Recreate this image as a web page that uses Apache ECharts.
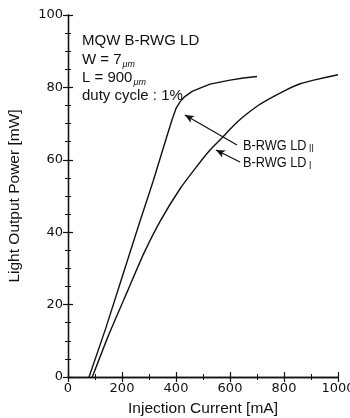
<!DOCTYPE html>
<html>
<head>
<meta charset="utf-8">
<script src="https://cdn.jsdelivr.net/npm/echarts@6/dist/echarts.min.js"></script>
<style>html,body{margin:0;padding:0;background:#fff;}#c{width:350px;height:418px;}</style>
</head>
<body>
<div id="c"></div>
<script>
// Data (Injection current [mA], Light output power [mW])
const ldIICurrent = [78, 140, 200, 260, 315, 360, 385, 400, 415, 430, 460, 489, 526, 600, 650, 700];
const ldIIPower   = [0, 13.5, 27.5, 41.5, 54, 65, 71, 74.2, 76, 77.3, 78.9, 79.8, 80.9, 82, 82.6, 83];
const ldICurrent  = [90, 150, 222, 280, 341, 415, 470, 526, 570, 610, 648, 700, 737, 800, 860, 910, 1000];
const ldIPower    = [0, 11.5, 24, 34, 43, 52, 57.5, 62.7, 66, 69.2, 71.8, 74.8, 76.5, 79, 81, 82, 83.5];
const xTicks = [0, 200, 400, 600, 800, 1000];
const yTicks = [0, 20, 40, 60, 80, 100];
// Arrow annotations [from, to] in data coordinates
const arrowII = [[626, 64.1], [433, 72.4]];
const arrowI  = [[637, 59.4], [548, 62.7]];

const chart = echarts.init(document.getElementById('c'), null, {renderer: 'canvas'});
const FONT = '"Liberation Sans", Arial, sans-serif';
const TICKFONT = '"DejaVu Sans", sans-serif';
const BLK = '#111';

function pairs(xs, ys) { return xs.map((x, i) => [x, ys[i]]); }

const axisCommon = {
  axisLine: {show: true, lineStyle: {color: BLK, width: 1.3}},
  axisTick: {show: true, inside: true, length: 5, lineStyle: {color: BLK, width: 1.2}},
  minorTick: {show: true, length: 3, lineStyle: {color: BLK, width: 1}},
  splitLine: {show: false}
};

function txt(x, y, text, rich, sx) {
  return {type: 'text', x: x, y: y, scaleX: sx, originX: 0, originY: 0,
    style: {text: text, fill: BLK, fontSize: 15, fontFamily: FONT, verticalAlign: 'middle', rich: rich}};
}
const richTop = {
  a: {fontSize: 15, fontFamily: FONT, fill: BLK},
  s: {fontSize: 9, fontStyle: 'italic', fontFamily: FONT, fill: BLK, padding: [8, 0, 0, 1]}
};
const richLab = {
  a: {fontSize: 15, fontFamily: FONT, fill: BLK},
  s: {fontSize: 10, fontFamily: FONT, fill: BLK, padding: [6, 0, 0, 3]}
};

const option = {
  animation: false,
  backgroundColor: '#fff',
  grid: {left: 68, right: 12, top: 15, bottom: 41, containLabel: false, outerBoundsMode: 'none'},
  xAxis: [
    Object.assign({}, axisCommon, {
      type: 'value', min: 0, max: 1000, interval: 200, position: 'bottom',
      minorTick: Object.assign({}, axisCommon.minorTick, {splitNumber: 2}),
      axisLabel: {color: BLK, fontFamily: TICKFONT, fontSize: 13, margin: 5,
        formatter: v => xTicks.includes(v) ? String(v) : ''},
      name: 'Injection Current [mA]', nameLocation: 'middle', nameGap: 24,
      nameTextStyle: {color: BLK, fontFamily: FONT, fontSize: 15.5}
    }),
    Object.assign({}, axisCommon, {
      type: 'value', min: 0, max: 1000, interval: 200, position: 'top',
      minorTick: Object.assign({}, axisCommon.minorTick, {splitNumber: 2}),
      axisLabel: {show: false}
    })
  ],
  yAxis: [
    Object.assign({}, axisCommon, {
      type: 'value', min: 0, max: 100, interval: 20, position: 'left',
      minorTick: Object.assign({}, axisCommon.minorTick, {splitNumber: 4}),
      axisLabel: {color: BLK, fontFamily: TICKFONT, fontSize: 13, margin: 5,
        formatter: v => yTicks.includes(v) ? String(v) : ''},
      name: 'Light Output Power [mW]', nameLocation: 'middle', nameGap: 45,
      nameTextStyle: {color: BLK, fontFamily: FONT, fontSize: 15.5}
    }),
    Object.assign({}, axisCommon, {
      type: 'value', min: 0, max: 100, interval: 20, position: 'right',
      minorTick: Object.assign({}, axisCommon.minorTick, {splitNumber: 4}),
      axisLabel: {show: false}
    })
  ],
  series: [
    {
      name: 'B-RWG LD II', type: 'line', data: pairs(ldIICurrent, ldIIPower),
      smooth: false, symbol: 'none', lineStyle: {color: BLK, width: 1.4},
      markLine: {
        silent: true, symbol: ['none', 'arrow'], symbolSize: [6, 9],
        lineStyle: {color: BLK, width: 1.2, type: 'solid'}, label: {show: false},
        data: [[{coord: arrowII[0]}, {coord: arrowII[1]}]]
      }
    },
    {
      name: 'B-RWG LD I', type: 'line', data: pairs(ldICurrent, ldIPower),
      smooth: 0.2, symbol: 'none', lineStyle: {color: BLK, width: 1.4},
      markLine: {
        silent: true, symbol: ['none', 'arrow'], symbolSize: [6, 9],
        lineStyle: {color: BLK, width: 1.2, type: 'solid'}, label: {show: false},
        data: [[{coord: arrowI[0]}, {coord: arrowI[1]}]]
      }
    }
  ],
  graphic: [
    txt(82, 41, 'MQW B-RWG LD', undefined, 1),
    txt(82, 60, '{a|W = 7}{s|μm}', richTop, 1),
    txt(82, 78, '{a|L = 900}{s|μm}', richTop, 1),
    txt(82, 96, 'duty cycle : 1%', undefined, 1),
    txt(243, 146, '{a|B-RWG LD}{s|II}', richLab, 0.85),
    txt(243, 163, '{a|B-RWG LD}{s|I}', richLab, 0.85)
  ]
};
chart.setOption(option);
</script>
</body>
</html>
